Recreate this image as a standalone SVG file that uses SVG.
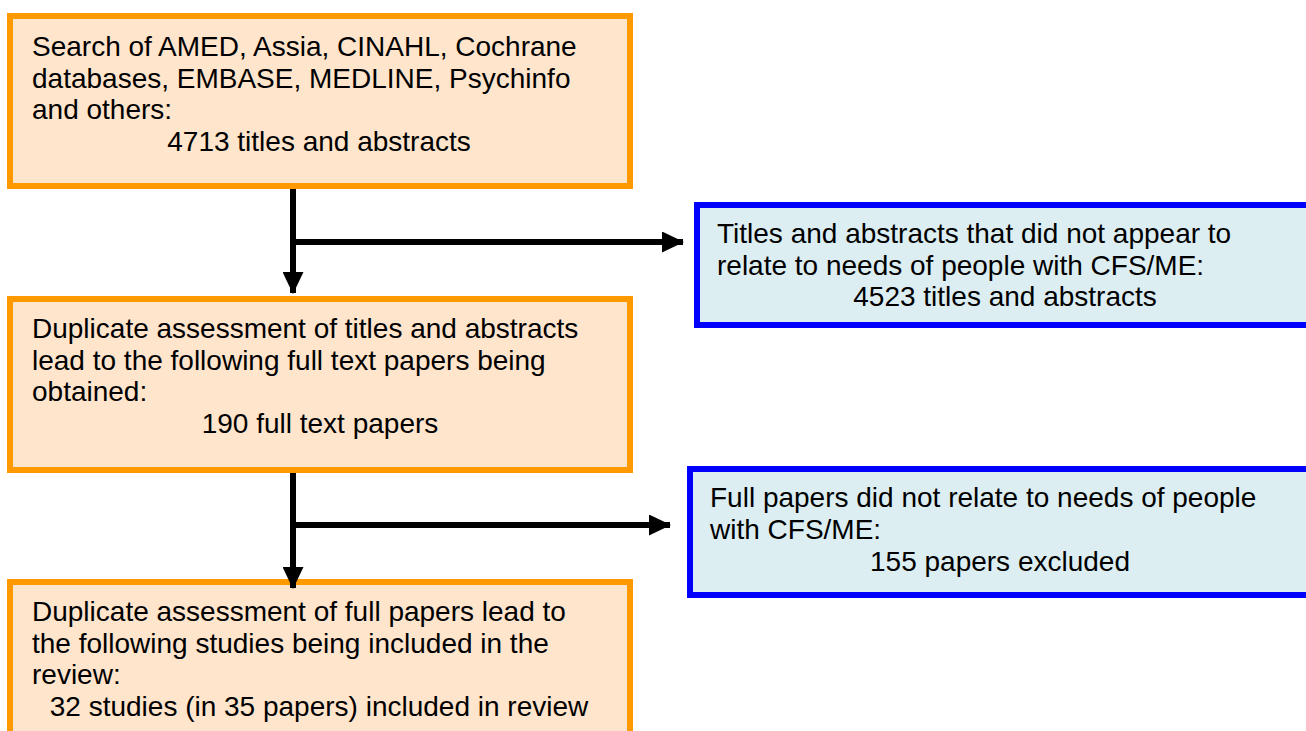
<svg xmlns="http://www.w3.org/2000/svg" width="1306" height="731" viewBox="0 0 1306 731">
<style>
.o{fill:#FEE5CC;stroke:#FF9900;stroke-width:6}
.b{fill:#DCEEF2;stroke:#0000FF;stroke-width:6}
text{font-family:"Liberation Sans",Arial,sans-serif;font-size:28px;fill:#000}
.c{text-anchor:middle}
.ln{stroke:#000;stroke-width:6;fill:none}
</style>
<defs>
<marker id="ah" markerWidth="22" markerHeight="21" refX="21" refY="10.5" orient="auto" markerUnits="userSpaceOnUse">
<path d="M0,0 L22,10.5 L0,21 Z" fill="#000"/>
</marker>
</defs>
<rect width="1306" height="731" fill="#fff"/>
<g id="n1">
<rect class="o" x="10" y="16" width="620" height="170"/>
<text x="32" y="56">Search of AMED, Assia, CINAHL, Cochrane</text>
<text x="32" y="88">databases, EMBASE, MEDLINE, Psychinfo</text>
<text x="32" y="119">and others:</text>
<text class="c" x="319" y="151">4713 titles and abstracts</text>
</g>
<g id="n2">
<rect class="b" x="697" y="205" width="620" height="120"/>
<text x="717" y="243">Titles and abstracts that did not appear to</text>
<text x="717" y="275">relate to needs of people with CFS/ME:</text>
<text class="c" x="1005" y="306">4523 titles and abstracts</text>
</g>
<g id="n3">
<rect class="o" x="10" y="299" width="620" height="171"/>
<text x="32" y="338">Duplicate assessment of titles and abstracts</text>
<text x="32" y="370">lead to the following full text papers being</text>
<text x="32" y="401">obtained:</text>
<text class="c" x="320" y="433">190 full text papers</text>
</g>
<g id="n4">
<rect class="b" x="690" y="469" width="627" height="126"/>
<text x="710" y="507">Full papers did not relate to needs of people</text>
<text x="710" y="539">with CFS/ME:</text>
<text class="c" x="1000" y="571">155 papers excluded</text>
</g>
<g id="n5">
<rect class="o" x="10" y="582" width="620" height="160"/>
<text x="32" y="621">Duplicate assessment of full papers lead to</text>
<text x="32" y="653">the following studies being included in the</text>
<text x="32" y="684">review:</text>
<text class="c" x="319" y="716">32 studies (in 35 papers) included in review</text>
</g>
<g id="connectors">
<line class="ln" x1="293" y1="189" x2="293" y2="293" marker-end="url(#ah)"/>
<line class="ln" x1="293" y1="242" x2="683" y2="242" marker-end="url(#ah)"/>
<line class="ln" x1="293" y1="473" x2="293" y2="588" marker-end="url(#ah)"/>
<line class="ln" x1="293" y1="525" x2="670" y2="525" marker-end="url(#ah)"/>
</g>
</svg>
